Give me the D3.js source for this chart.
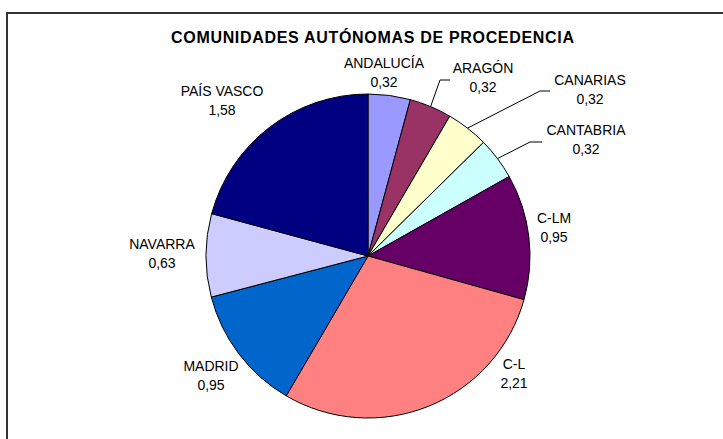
<!DOCTYPE html>
<html>
<head>
<meta charset="utf-8">
<script src="https://cdn.jsdelivr.net/npm/d3@7"></script>
<style>
  html, body { margin: 0; padding: 0; background: #fff; }
  svg { display: block; }
  text { font-family: "Liberation Sans", Arial, sans-serif; fill: #000; }
</style>
</head>
<body>
<svg id="chart" width="723" height="439"></svg>
<script>
// ---- data ----
const categories = ["ANDALUCÍA", "ARAGÓN", "CANARIAS", "CANTABRIA", "C-LM", "C-L", "MADRID", "NAVARRA", "PAÍS VASCO"];
const values = [0.32, 0.32, 0.32, 0.32, 0.95, 2.21, 0.95, 0.63, 1.58];
const colors = ["#9999FF", "#993366", "#FFFFCC", "#CCFFFF", "#660066", "#FF8080", "#0066CC", "#CCCCFF", "#000080"];
const title = "COMUNIDADES AUTÓNOMAS DE PROCEDENCIA";

// ---- layout (label anchors: center x, first baseline y; optional leader elbow) ----
const labelLayout = [
  { x: 384, y: 68 },
  { x: 483, y: 73, elbow: [440, 80], end: 450 },
  { x: 590, y: 85, elbow: [540, 91], end: 550 },
  { x: 586, y: 135, elbow: [530, 142], end: 542 },
  { x: 554, y: 223 },
  { x: 514, y: 369 },
  { x: 211, y: 371 },
  { x: 162, y: 249 },
  { x: 222, y: 96 }
];

const svg = d3.select("#chart");
const cx = 368, cy = 256, R = 162;

// border
svg.append("rect")
  .attr("x", 7).attr("y", 13)
  .attr("width", 730).attr("height", 440)
  .attr("fill", "none").attr("stroke", "#333").attr("stroke-width", 2);

// title
svg.append("text")
  .attr("x", 372.5).attr("y", 43)
  .attr("text-anchor", "middle")
  .attr("font-size", 16).attr("font-weight", "bold")
  .attr("textLength", 403).attr("lengthAdjust", "spacing")
  .text(title);

const data = categories.map((c, i) => ({ name: c, value: values[i], color: colors[i], layout: labelLayout[i] }));

const pie = d3.pie().sort(null).value(d => d.value).startAngle(0).endAngle(2 * Math.PI);
const arc = d3.arc().innerRadius(0).outerRadius(R);
const arcs = pie(data);

const g = svg.append("g").attr("transform", `translate(${cx},${cy})`);
g.selectAll("path").data(arcs).enter().append("path")
  .attr("d", arc)
  .attr("fill", d => d.data.color)
  .attr("stroke", "#000").attr("stroke-width", 1).attr("stroke-linejoin", "round");

// leader lines
arcs.forEach(a => {
  const L = a.data.layout;
  if (!L.elbow) return;
  const mid = (a.startAngle + a.endAngle) / 2;
  const sx = cx + R * Math.sin(mid), sy = cy - R * Math.cos(mid);
  svg.append("polyline")
    .attr("points", `${sx},${sy} ${L.elbow[0]},${L.elbow[1]} ${L.end},${L.elbow[1]}`)
    .attr("fill", "none").attr("stroke", "#000").attr("stroke-width", 1);
});

// labels
const fmt = v => d3.format(".2f")(v).replace(".", ",");
arcs.forEach(a => {
  const L = a.data.layout;
  const t = svg.append("text")
    .attr("text-anchor", "middle")
    .attr("font-size", 14);
  t.append("tspan").attr("x", L.x).attr("y", L.y).text(a.data.name);
  t.append("tspan").attr("x", L.x).attr("y", L.y + 19).text(fmt(a.data.value));
});
</script>
</body>
</html>
